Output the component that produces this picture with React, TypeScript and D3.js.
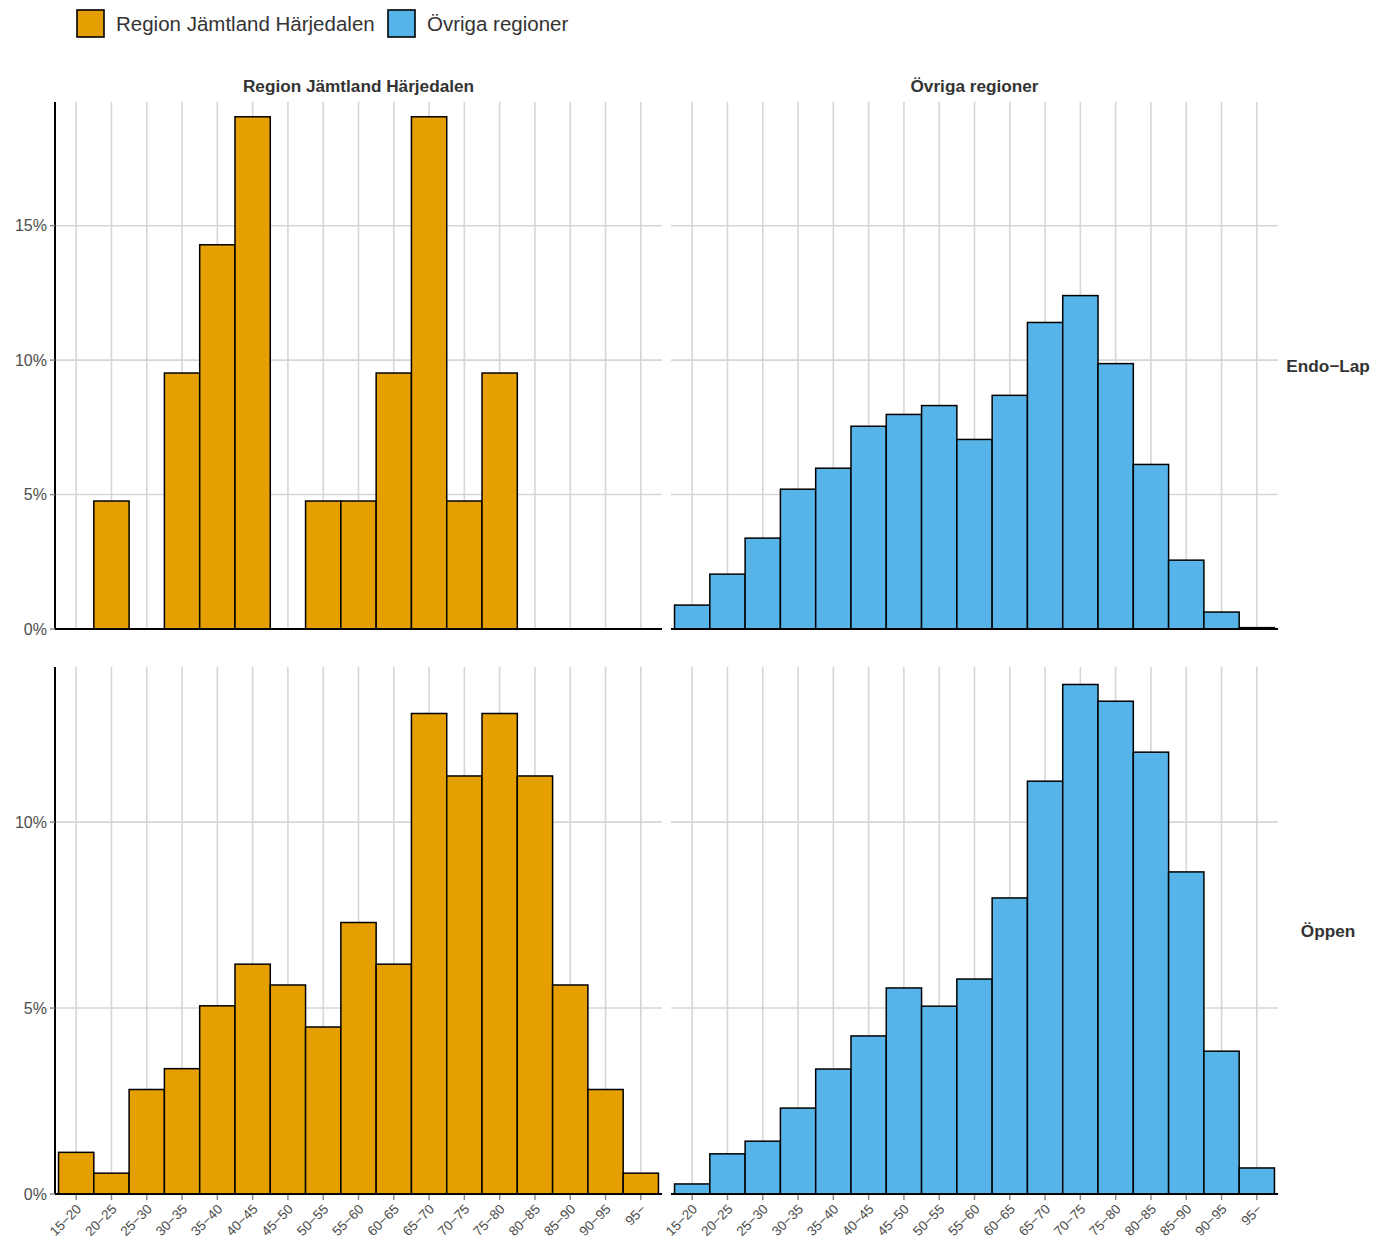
import React from "react";
import * as d3 from "d3";

const ageGroups = ["15−20","20−25","25−30","30−35","35−40","40−45","45−50","50−55","55−60","60−65","65−70","70−75","75−80","80−85","85−90","90−95","95−"];
const regions = ["Region Jämtland Härjedalen", "Övriga regioner"];
const methods = ["Endo−Lap", "Öppen"];
const regionColors = ["#E69F00", "#56B4E9"];

// percentage shares (0-100)
const jhEndoLap = [0, 4.76, 0, 9.52, 14.29, 19.05, 0, 4.76, 4.76, 9.52, 19.05, 4.76, 9.52, 0, 0, 0, 0];
const ovrEndoLap = [0.89, 2.04, 3.38, 5.2, 5.98, 7.54, 7.98, 8.31, 7.05, 8.69, 11.4, 12.4, 9.87, 6.12, 2.56, 0.63, 0.05];
const jhOppen = [1.12, 0.56, 2.81, 3.37, 5.06, 6.18, 5.62, 4.49, 7.3, 6.18, 12.92, 11.24, 12.92, 11.24, 5.62, 2.81, 0.56];
const ovrOppen = [0.27, 1.08, 1.42, 2.31, 3.36, 4.25, 5.54, 5.05, 5.78, 7.96, 11.1, 13.7, 13.25, 11.88, 8.66, 3.84, 0.7];

const rowMax = [19.6, 14.17];
const rowTicks = [[0, 5, 10, 15], [0, 5, 10]];
const seriesGrid = [[jhEndoLap, ovrEndoLap], [jhOppen, ovrOppen]];

const cols = [[55, 662], [671, 1278]];
const rows = [[102, 629], [667, 1194]];

const GRID = "#d6d6d6";
const TXT = "#4d4d4d";
const FONT = "Liberation Sans, Arial, sans-serif";

export default function App() {
  const panels: React.ReactNode[] = [];
  rows.forEach((r, ri) => {
    const y = d3.scaleLinear().domain([0, rowMax[ri]]).range([r[1], r[0]]);
    cols.forEach((c, ci) => {
      const x = d3.scaleBand<string>().domain(ageGroups).range([c[0], c[1]]).paddingInner(0).paddingOuter(0.1);
      const vals = seriesGrid[ri][ci];
      const key = `p${ri}${ci}`;
      panels.push(
        <g key={key}>
          {rowTicks[ri].map((t) => (
            <line key={"h" + t} x1={c[0]} x2={c[1]} y1={y(t)} y2={y(t)} stroke={GRID} strokeWidth={1.6} />
          ))}
          {ageGroups.map((a) => (
            <line key={"v" + a} x1={x(a)! + x.bandwidth() / 2} x2={x(a)! + x.bandwidth() / 2} y1={r[0]} y2={r[1]} stroke={GRID} strokeWidth={1.6} />
          ))}
          {vals.map((v, i) =>
            v > 0 ? (
              <rect key={"b" + i} x={x(ageGroups[i])} y={y(v)} width={x.bandwidth()} height={y(0) - y(v)} fill={regionColors[ci]} stroke="#000" strokeWidth={1.5} />
            ) : null
          )}
          <line x1={c[0]} x2={c[1]} y1={y(0)} y2={y(0)} stroke="#000" strokeWidth={2} />
          {ci === 0 && <line x1={c[0]} x2={c[0]} y1={r[0]} y2={r[1]} stroke="#000" strokeWidth={2} />}
          {ci === 0 &&
            rowTicks[ri].map((t) => (
              <g key={"yt" + t}>
                <line x1={c[0] - 5} x2={c[0]} y1={y(t)} y2={y(t)} stroke="#8c8c8c" strokeWidth={1.5} />
                <text x={c[0] - 8} y={y(t)} dy="0.36em" textAnchor="end" fontSize={16} fill={TXT} fontFamily={FONT}>
                  {t}%
                </text>
              </g>
            ))}
          {ri === 1 &&
            ageGroups.map((a) => {
              const cx = x(a)! + x.bandwidth() / 2;
              return (
                <g key={"xt" + a}>
                  <line x1={cx} x2={cx} y1={r[1] + 1} y2={r[1] + 6} stroke="#8c8c8c" strokeWidth={1.5} />
                  <text transform={`translate(${cx + 6},${r[1] + 16}) rotate(-45)`} textAnchor="end" fontSize={13.5} fill={TXT} fontFamily={FONT}>
                    {a}
                  </text>
                </g>
              );
            })}
        </g>
      );
    });
  });

  return (
    <svg width={1385} height={1243} style={{ position: "absolute", left: 0, top: 0, background: "#fff" }} fontFamily={FONT}>
      <rect x={0} y={0} width={1385} height={1243} fill="#fff" />
      {/* legend */}
      <g>
        <rect x={77} y={10} width={27} height={27} fill={regionColors[0]} stroke="#000" strokeWidth={1.6} />
        <text x={116} y={23.5} dy="0.36em" fontSize={20.5} fill="#333" fontFamily={FONT}>{regions[0]}</text>
        <rect x={388} y={10} width={27} height={27} fill={regionColors[1]} stroke="#000" strokeWidth={1.6} />
        <text x={427} y={23.5} dy="0.36em" fontSize={20.5} fill="#333" fontFamily={FONT}>{regions[1]}</text>
      </g>
      {/* strips */}
      {cols.map((c, i) => (
        <text key={"s" + i} x={(c[0] + c[1]) / 2} y={86} dy="0.36em" textAnchor="middle" fontWeight="bold" fontSize={17.2} fill="#333" fontFamily={FONT}>
          {regions[i]}
        </text>
      ))}
      {rows.map((r, i) => (
        <text key={"rs" + i} x={1328} y={(r[0] + r[1]) / 2} dy="0.36em" textAnchor="middle" fontWeight="bold" fontSize={17.2} fill="#333" fontFamily={FONT}>
          {methods[i]}
        </text>
      ))}
      {panels}
    </svg>
  );
}
